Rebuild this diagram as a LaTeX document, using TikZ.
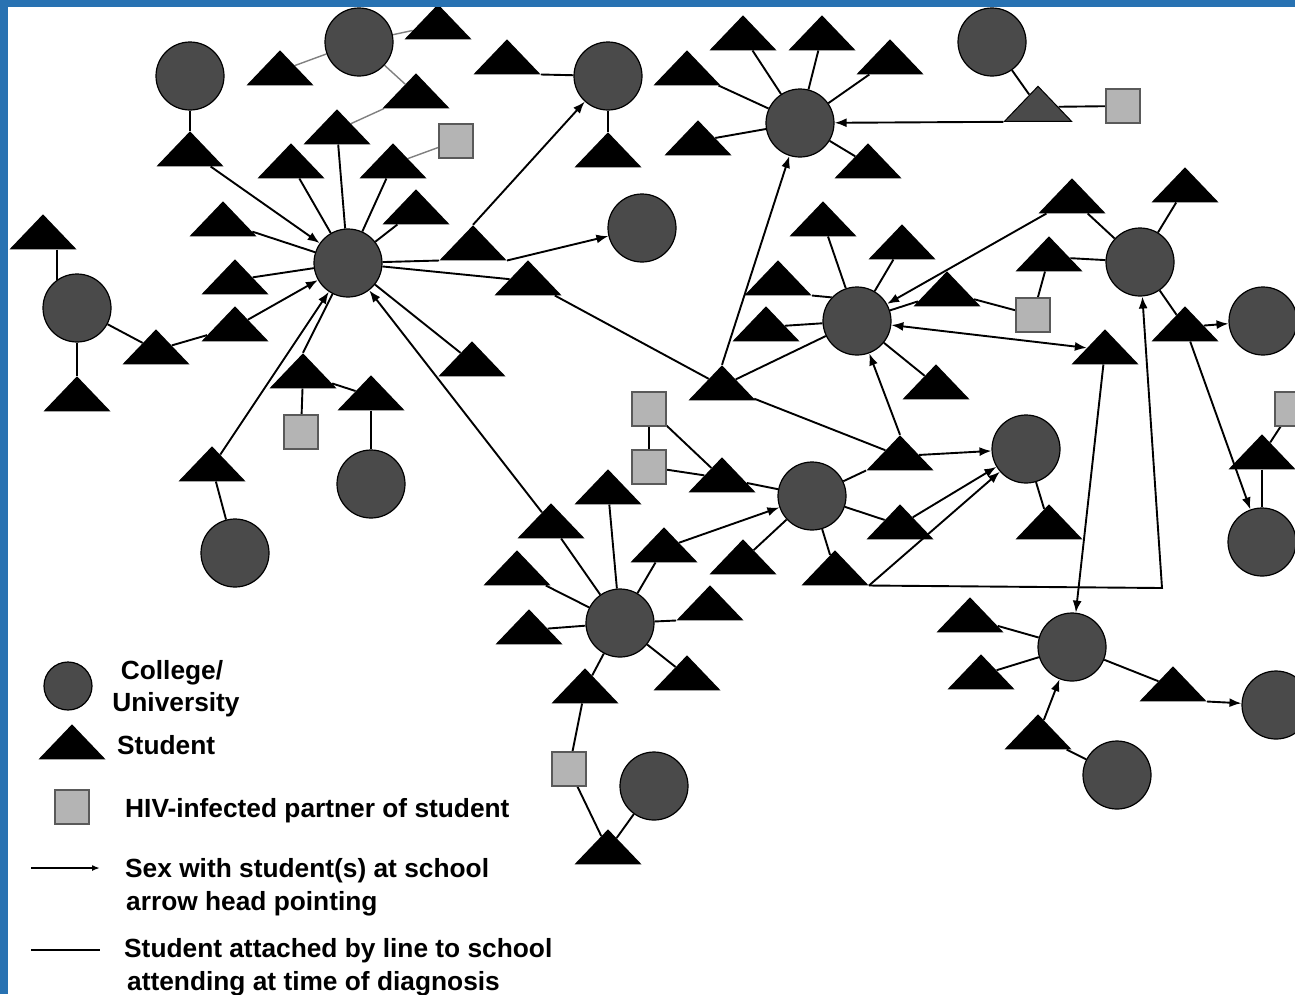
\documentclass[tikz,border=0pt]{standalone}
\usepackage{fontspec}
\setmainfont{Liberation Sans}
\usepackage{tikz}
\usetikzlibrary{arrows,arrows.meta,shapes.geometric,positioning,backgrounds}

\definecolor{framecol}{RGB}{40,114,178}
\definecolor{schoolgray}{RGB}{74,74,74}
\definecolor{partnergray}{RGB}{180,180,180}
\definecolor{partnerline}{RGB}{90,90,90}

\tikzset{
	school/.style={circle, draw=black, fill=schoolgray, line width=1.2pt, minimum size=68pt, inner sep=0pt},
	student/.style={isosceles triangle, shape border rotate=90, isosceles triangle stretches, fill=black, minimum width=67pt, minimum height=35pt, inner sep=0pt},
	partner/.style={rectangle, draw=partnerline, fill=partnergray, line width=1.2pt, minimum size=34pt, inner sep=0pt},
	attend/.style={line width=1.9pt},
	sex/.style={line width=1.9pt, ->, >={Latex[length=12pt,width=9pt]}},
	tie/.style={gray, line width=1.4pt},
	legend/.style={font=\fontsize{26.3}{33}\selectfont\bfseries, inner sep=0pt}
}

\begin{document}
\begin{tikzpicture}[x=1pt, y=-1pt]
	
	\useasboundingbox (0,0) rectangle (1295,994);
	
	% schools
	\foreach \nm/\px/\py in {cA/359/42, cB/608/76, cC/190/76, cD/77/308, cH/348/263, cE/371/484, cF/235/553, cK/642/228, cM/800/123, cZ/992/42, cN/857/321, cR/1140/262, cU/1263/321, cY/1262/542, cW/812/496, cAA/1026/449, cJ/620/623, cX/1072/647, cBot/654/786, cX2/1117/775, cX3/1276/705}
		\node[school] (\nm) at (\px,\py) {};
	
	% students
	\foreach \nm/\px/\py in {t1/438/25, t2/280/71, t3/507/60, t4/416/94, t5/337/130, t6/190/152, t7/291/164, t8/393/164, t9/416/210, t10/223/222, t11/235/280, t12/235/327, t13/156/350, t14/43/235, t15/77/397, t16/303/374, t17/371/396, t18/212/467, t19/551/524, t20/472/362, t21/473/246, t22/528/281, tL/722/386, tP/900/456, t23/608/153, t24/743/36, t25/822/36, t26/890/60, t27/687/71, t28/698/141, t29/868/164, t30/823/222, t31/902/245, t32/778/281, t33/766/327, t34/947/292, t35/936/385, tQ/1072/199, tS/1105/350, t36/1185/188, t37/1049/257, tT/1185/327, t38/1262/455, t39/722/478, t40/664/548, t41/743/560, tV/835/571, t42/900/525, t43/1049/525, t44/608/490, t45/517/571, t46/529/630, t47/710/606, t48/687/676, t49/585/689, t50/608/850, t51/970/618, t52/981/675, t53/1038/735, t54/1173/687}
		\node[student] (\nm) at (\px,\py) {};
	\node[student, fill=schoolgray, draw=black, line width=1pt] (tG) at (1038,107) {};
	
	% partners
	\foreach \nm/\px/\py in {q1/456/141, q2/301/432, q3/1123/106, q4/1033/315, q5/1292/409, q6/649/409, q7/649/467, q8/569/769}
		\node[partner] (\nm) at (\px,\py) {};
	
	\coordinate (bend) at (1162,588);
	
	\begin{scope}[on background layer]
		\fill[white] (0,0) rectangle (1295,994);
		
		\foreach \a/\b in {cA/t1, cA/t2, cA/t4, t4/t5, t8/q1}
			\draw[tie] (\a) -- (\b);
		
		\foreach \a/\b in {cB/t23, cC/t6, cH/t5, cH/t7, cH/t8, cH/t9, cH/t10, cH/t11, t12/t13, cD/t13, cD/t15, cH/t16.north, t16/q2, t16/t17, t17/cE, t18/cF, t19/cJ, cH/t20, cH/t21.left corner, cH/t22, t22/tL, tL/cN, tL/tP, cM/t24, cM/t25, cM/t26, cM/t27, cM/t28, cM/t29, tG/cZ, tG/q3, cN/t30, cN/t31, t32.right corner/cN.137, cN/t33, cN/t34, cN/t35, t34/q4, tQ/cR, cR/t36, cR/t37, t37/q4, cR/tT, t38/cY, t38/q5, cW/t39, q6/q7, q6/t39, q7/t39, t40/cJ, cW/t41, cW/tV, cW/t42, tP.left corner/cW, cAA/t43, cJ/t44, cJ/t45, cJ/t46, cJ/t47.left corner, cJ/t48, cJ/t49, t49/q8, q8/t50, t50/cBot, cX/t51, cX/t52, t53/cX2, cX/t54}
			\draw[attend] (\a) -- (\b);
		\draw[attend] (t3.right corner) -- (cB);
		\draw[attend] (t14.south -| cD.125) -- (cD.125);
		
		\foreach \a/\b in {t6/cH, t12/cH, t18/cH, t19/cH, t21.right corner/cK, t21.north/cB, tL.north/cM, tP.north/cN, tP/cAA, tG.left corner/cM, tQ/cN, tS/cX, tT/cU, tT/cY, t40/cW, tV.right corner/cAA, t42/cAA, t53/cX, t54.right corner/cX3}
			\draw[sex] (\a) -- (\b);
		\draw[sex, <->] (cN) -- (tS);
		\draw[sex] (tV.right corner) -- (bend) -- (cR);
	\end{scope}
	
	% legend
	\node[school, minimum size=48pt] (lgSchool) at (68,686) {};
	\node[student] (lgStudent) at (72,745) {};
	\node[partner] (lgPartner) at (72,807) {};
	\coordinate (lgA) at (31,868);
	\coordinate (lgB) at (100,868);
	\coordinate (lgC) at (31,950);
	\coordinate (lgD) at (100,950);
	\draw[sex, >={Latex[length=8pt,width=6pt]}] (lgA) -- (lgB);
	\draw[attend] (lgC) -- (lgD);
	
	\node[legend, anchor=base] (txCollege) at (172,679) {College/};
	\node[legend, anchor=base] (txUniv) at (176,711) {University};
	\node[legend, anchor=base west] (txStudent) at (117,754) {Student};
	\node[legend, anchor=base west] (txHiv) at (125,817) {HIV-infected partner of student};
	\node[legend, anchor=base west] (txSex) at (125,877) {Sex with student(s) at school};
	\node[legend, anchor=base west] (txSex2) at (126,910) {arrow head pointing};
	\node[legend, anchor=base west] (txAtt) at (124,957) {Student attached by line to school};
	\node[legend, anchor=base west] (txAtt2) at (127,990) {attending at time of diagnosis};
	
	% frame
	\fill[framecol] (0,0) rectangle (8,994);
	\fill[framecol] (0,0) rectangle (1295,7);
	
\end{tikzpicture}
\end{document}
